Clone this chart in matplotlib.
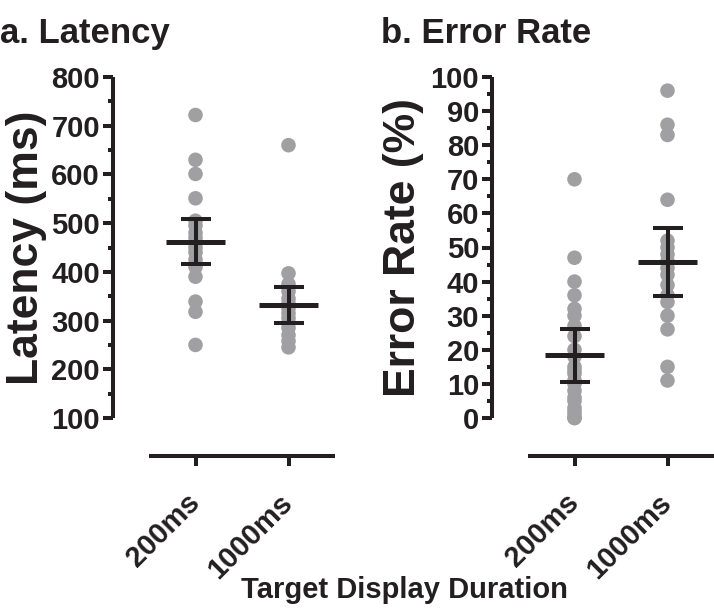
import matplotlib
matplotlib.use("Agg")
import matplotlib.pyplot as plt
import matplotlib.transforms as mtransforms
import numpy as np

# ---- data ----
conditions = ["200ms", "1000ms"]

latency_200 = [722, 630, 601, 551, 505, 495, 480, 470, 460, 450, 440, 425, 410, 390, 339, 318, 250]
latency_1000 = [660, 397, 375, 360, 345, 335, 325, 315, 305, 295, 285, 270, 258, 245]
latency_mean = [462, 332]
latency_sem = [46, 36]

error_200 = [70, 47, 40, 36, 32, 30, 27, 24, 20, 18, 15, 14, 13, 11, 10, 8, 6, 5, 3, 2, 1, 0, 0]
error_1000 = [96, 86, 83, 64, 52, 50, 48, 46, 44, 42, 39, 36, 34, 30, 26, 15, 11]
error_mean = [18.4, 45.8]
error_sem = [7.8, 10.0]

INK = "#231f20"
DOT = "#a0a0a2"
W, H = 714, 609

plt.rcParams["font.family"] = ["Liberation Sans", "DejaVu Sans"]
plt.rcParams["font.weight"] = "bold"

fig = plt.figure(figsize=(W / 100, H / 100), dpi=100)


def px_axes(left, top, width, height):
  return fig.add_axes([left / W, 1 - (top + height) / H, width / W, height / H])


def draw_panel(ax, groups, means, sems, ylim, major, minor):
  for i, vals in enumerate(groups):
    ax.scatter(np.full(len(vals), i), vals, s=110, color=DOT, edgecolors="none",
               zorder=2, clip_on=False)
    ax.hlines(means[i], i - 0.32, i + 0.32, color=INK, lw=3.6, zorder=3)
  ax.errorbar(range(len(means)), means, yerr=sems, fmt="none", ecolor=INK,
              elinewidth=2.9, capsize=11, capthick=2.9, zorder=3)

  ax.set_xlim(-0.5, 1.5)
  ax.set_ylim(*ylim)
  ax.set_yticks(np.arange(ylim[0], ylim[1] + 0.1, major))
  ax.set_yticks(np.arange(ylim[0], ylim[1] + 0.1, minor), minor=True)
  ax.set_xticks(range(len(conditions)))

  for side in ("top", "right"):
    ax.spines[side].set_visible(False)
  ax.spines["left"].set_position(("outward", 26))
  ax.spines["bottom"].set_position(("outward", 27.5))
  for side in ("left", "bottom"):
    ax.spines[side].set_linewidth(2.9)
    ax.spines[side].set_color(INK)
    ax.spines[side].set_capstyle("butt")

  ax.tick_params(axis="y", which="major", length=7.2, width=2.9, color=INK,
                 labelsize=21, labelcolor=INK, pad=2)
  ax.tick_params(axis="y", which="minor", length=3.6, width=2.9, color=INK)
  ax.tick_params(axis="x", length=7.2, width=2.9, color=INK, labelsize=21,
                 labelcolor=INK, pad=16)
  ax.set_xticklabels(conditions, rotation=45, ha="right", va="top",
                     fontweight="bold")
  shift = mtransforms.ScaledTranslation(10 / 100, 0, fig.dpi_scale_trans)
  for lab in ax.get_xticklabels():
    lab.set_transform(lab.get_transform() + shift)
  for lab in ax.get_yticklabels():
    lab.set_fontweight("bold")
  ax.patch.set_visible(False)


ax1 = px_axes(149, 77, 186, 341)
draw_panel(ax1, [latency_200, latency_1000], latency_mean, latency_sem,
           (100, 800), 100, 50)

ax2 = px_axes(528, 77, 186, 341)
draw_panel(ax2, [error_200, error_1000], error_mean, error_sem,
           (0, 100), 10, 5)

# labels
fig.text(27 / W, 1 - 248 / H, "Latency (ms)", rotation=90, ha="center",
         va="center", fontsize=32, fontweight="bold", color=INK)
fig.text(404 / W, 1 - 248 / H, "Error Rate (%)", rotation=90, ha="center",
         va="center", fontsize=32, fontweight="bold", color=INK)
fig.text(404 / W, 1 - 598 / H, "Target Display Duration", ha="center",
         va="baseline", fontsize=21, fontweight="bold", color=INK)

fig.text(0 / W, 1 - 43 / H, "a. Latency", ha="left", va="baseline",
         fontsize=25, fontweight="bold", color=INK)
fig.text(381 / W, 1 - 43 / H, "b. Error Rate", ha="left", va="baseline",
         fontsize=25, fontweight="bold", color=INK)

fig.savefig("out.png", dpi=100)
